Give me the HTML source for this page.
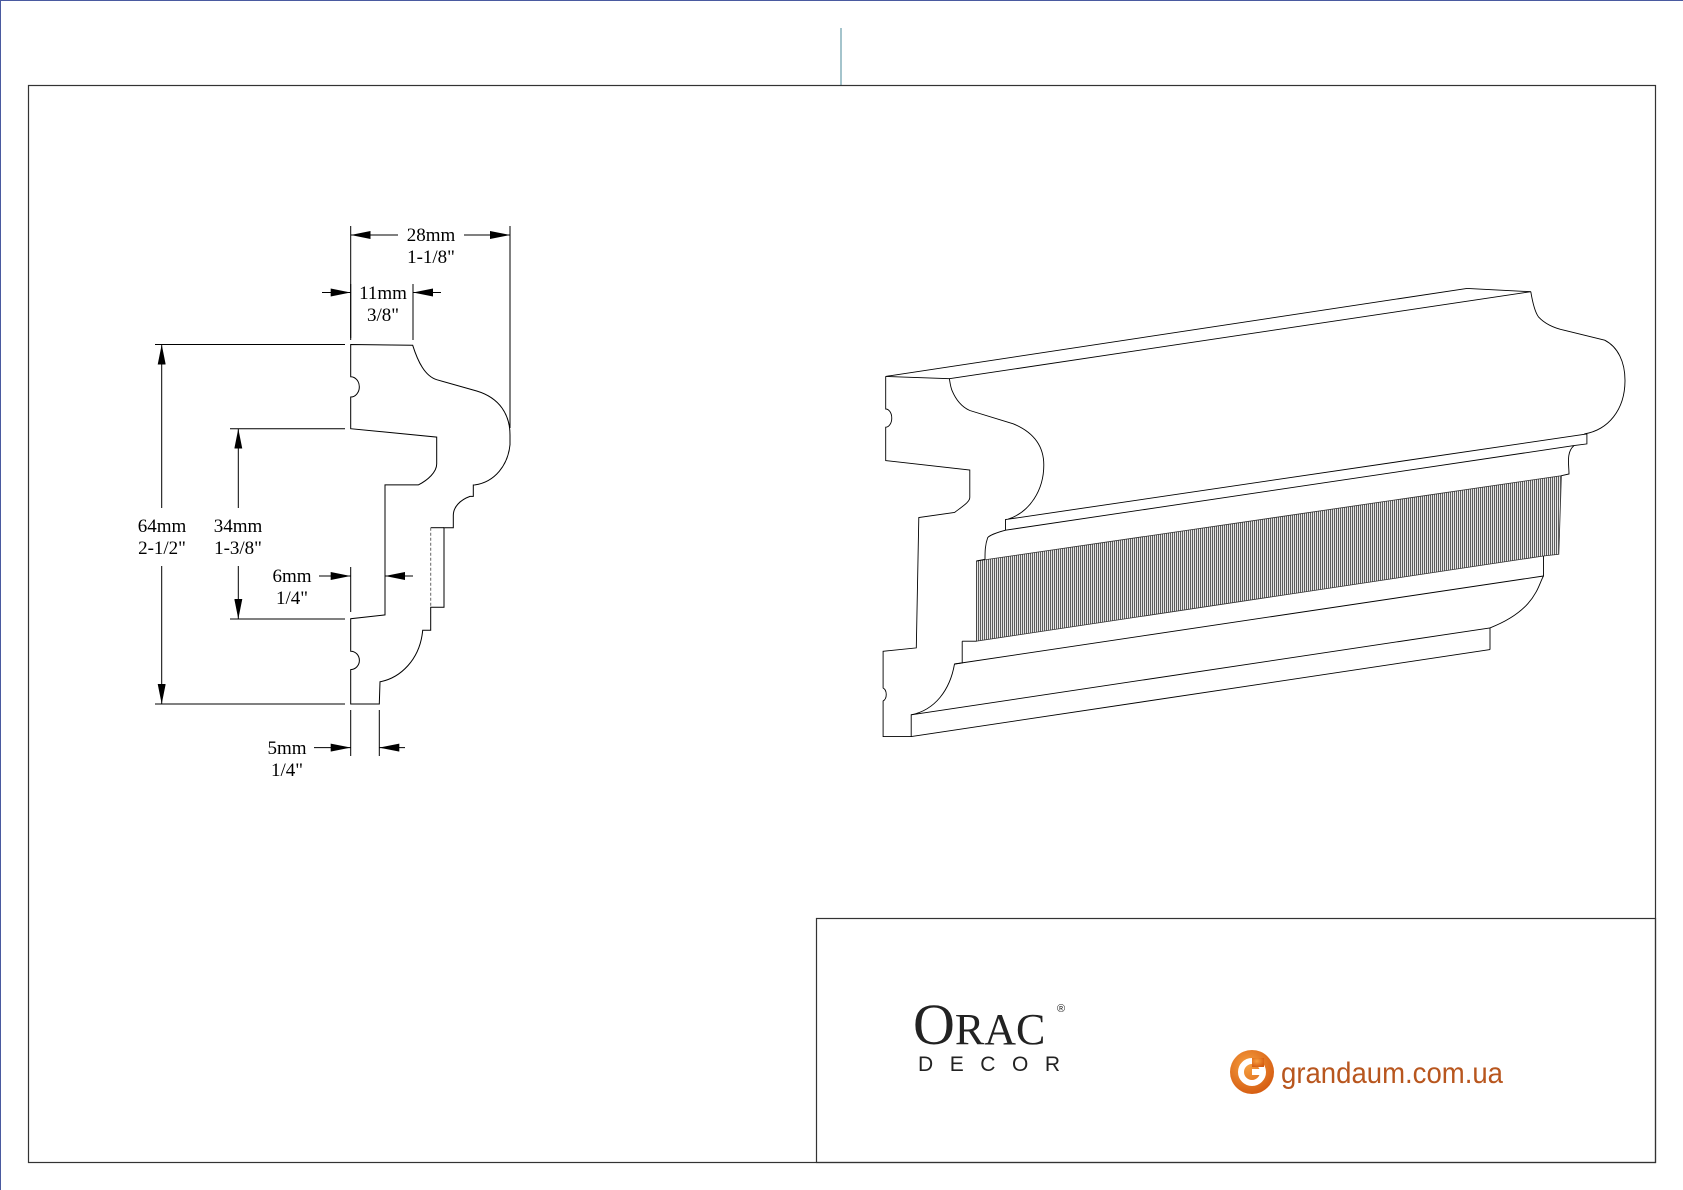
<!DOCTYPE html>
<html><head><meta charset="utf-8"><style>
html,body{margin:0;padding:0;background:#fff;}
svg{display:block;}
</style></head><body>
<svg width="1683" height="1190" viewBox="0 0 1683 1190" xmlns="http://www.w3.org/2000/svg" style="font-family:'Liberation Serif',serif">
<defs>
<pattern id="rib" width="2" height="10" patternUnits="userSpaceOnUse">
<rect width="2" height="10" fill="#eee"/>
<line x1="0.6" y1="0" x2="0.6" y2="10" stroke="#444" stroke-width="0.9"/>
</pattern>
<radialGradient id="og" cx="0.4" cy="0.35" r="0.7">
<stop offset="0" stop-color="#f7a040"/><stop offset="1" stop-color="#d45a10"/>
</radialGradient>
<marker id="ar" viewBox="0 0 20 8" refX="20" refY="4" markerWidth="20" markerHeight="8" markerUnits="userSpaceOnUse" orient="auto">
<path d="M0,0 L20,4 L0,8 Z" fill="#000"/>
</marker>
</defs>
<line x1="0" y1="0.5" x2="1683" y2="0.5" stroke="#4a5aa0" stroke-width="1"/>
<line x1="0.5" y1="0" x2="0.5" y2="1190" stroke="#4a5aa0" stroke-width="1"/>
<line x1="841" y1="28" x2="841" y2="85" stroke="#4a8a9a" stroke-width="1"/>
<rect x="28.5" y="85.5" width="1627" height="1077" fill="none" stroke="#333" stroke-width="1.2"/>
<rect x="816.5" y="918.5" width="839" height="244" fill="none" stroke="#333" stroke-width="1.2"/>

<g fill="none" stroke="#000" stroke-width="1">
<path d="M350.7,344.5 L412.7,345.3 C418,362 425,376 436.7,379.7 L476.7,391 C500,398 510,415 510,435 L510,444.7 C508,465 495,482 475,484.9 L473.3,485 L473.3,496.4 L470,496.4 C460,500 453.3,507 453.3,515.5 L453.3,527.7 L444,527.7 L444,607.3 L430.7,607.3 L430.7,630.2 L422.7,630.2 C420,660 400,678 380,681.8 L379.3,704 L350.7,704 L350.7,669.6 A8.5,9 0 0 0 350.7,651.2 L350.7,618.7 L385,614.9 L385,484.9 L418.3,484.9 C428,480 436.7,472 436.7,463.9 L436.7,437.1 L350.7,428.7 L350.7,397 A8.5,10 0 0 0 350.7,376.7 Z"/>
<line x1="430.7" y1="527.7" x2="444" y2="527.7"/>
<line x1="430.7" y1="527.7" x2="430.7" y2="607.3" stroke-dasharray="3,2" stroke="#666"/>
</g>

<g stroke="#000" stroke-width="1" fill="none">
<line x1="350.7" y1="226" x2="350.7" y2="338"/>
<line x1="510" y1="226" x2="510" y2="428"/>
<line x1="398" y1="235" x2="350.7" y2="235" marker-end="url(#ar)"/>
<line x1="464" y1="235" x2="510" y2="235" marker-end="url(#ar)"/>
<line x1="413" y1="284" x2="413" y2="340"/>
<line x1="350.7" y1="284" x2="350.7" y2="340"/>
<line x1="322" y1="292.5" x2="350.7" y2="292.5" marker-end="url(#ar)"/>
<line x1="441" y1="292.5" x2="413" y2="292.5" marker-end="url(#ar)"/>
<line x1="155" y1="344.5" x2="345" y2="344.5"/>
<line x1="155" y1="704" x2="345" y2="704"/>
<line x1="161.7" y1="508" x2="161.7" y2="344.5" marker-end="url(#ar)"/>
<line x1="161.7" y1="566" x2="161.7" y2="704" marker-end="url(#ar)"/>
<line x1="230" y1="428.7" x2="345" y2="428.7"/>
<line x1="230" y1="619" x2="345" y2="619"/>
<line x1="238.3" y1="508" x2="238.3" y2="428.7" marker-end="url(#ar)"/>
<line x1="238.3" y1="566" x2="238.3" y2="619" marker-end="url(#ar)"/>
<line x1="350.7" y1="567" x2="350.7" y2="612"/>
<line x1="319" y1="576" x2="350.7" y2="576" marker-end="url(#ar)"/>
<line x1="413" y1="576" x2="385" y2="576" marker-end="url(#ar)"/>
<line x1="350.7" y1="710" x2="350.7" y2="756"/>
<line x1="379.3" y1="710" x2="379.3" y2="756"/>
<line x1="314" y1="747.6" x2="350.7" y2="747.6" marker-end="url(#ar)"/>
<line x1="405" y1="747.6" x2="379.3" y2="747.6" marker-end="url(#ar)"/>
</g>
<g font-size="19" text-anchor="middle">
<text x="431" y="241">28mm</text><text x="431" y="263">1-1/8"</text>
<text x="383" y="299">11mm</text><text x="383" y="321">3/8"</text>
<text x="162" y="532">64mm</text><text x="162" y="554">2-1/2"</text>
<text x="238" y="532">34mm</text><text x="238" y="554">1-3/8"</text>
<text x="292" y="582">6mm</text><text x="292" y="604">1/4"</text>
<text x="287" y="754">5mm</text><text x="287" y="776">1/4"</text>
</g>

<polygon points="976.5,561 1561.4,475.7 1558.8,554.3 1543.5,556 976.5,641.2" fill="url(#rib)" stroke="#333" stroke-width="0.8"/>
<g fill="none" stroke="#000" stroke-width="0.9">
<path d="M885.7,376.4 L949.4,378.7 C950,383 951,388 952,390.4 C956,400 962,407 969.8,410.5 L1013.2,423.8 C1033,432 1043.8,445 1043.8,465 C1043.8,490 1030,512 1008,519.2 L1005.5,519.5 L1005.5,530.2 C995,533 989,536 987.7,537.6 C985,545 985,552 985,559.3"/>
<line x1="985" y1="559.3" x2="976.5" y2="561"/>
<path d="M962.2,641.2 L962.2,663 L954.5,664 C950,690 935,710 911.2,714.8 L911.2,736.6 L883.1,736.6 L883.1,701 A5,7 0 0 0 883.1,688 L883.1,651.3 L916.3,647.9 L918.8,517.5 L954.5,512.5 C963,506 969.8,502 969.8,497.4 L969.8,470 L885.7,460.6 L885.7,427.2 A6,9 0 0 0 885.7,409 L885.7,376.4"/>
<line x1="962.2" y1="641.2" x2="976.5" y2="641.2"/>
<line x1="885.7" y1="376.4" x2="1467" y2="288.4"/>
<line x1="949.4" y1="378.7" x2="1530.8" y2="291.7"/>
<line x1="1467" y1="288.4" x2="1530.8" y2="291.7"/>
<path d="M1530.8,291.7 C1533,305 1535,312 1538.4,316.8 C1545,324 1554,328 1564,330.2 L1604.7,340.2 C1618,347 1625,362 1625,380.4 C1625,410 1608,430 1584.3,433.9 L1586.9,433.9 L1586.9,443.9 L1574,445.6 C1566,452 1569,465 1569,474 L1561.4,475.7"/>
<path d="M1543.5,556 L1543.5,576 C1538,585 1536,610 1490,627.9 L1490,649.6"/>
<line x1="1008" y1="519.2" x2="1586.9" y2="433.9"/>
<line x1="1005.5" y1="530.2" x2="1574" y2="445.6"/>
<line x1="954.5" y1="664" x2="1543.5" y2="576"/>
<line x1="911.2" y1="714.8" x2="1490" y2="627.9"/>
<line x1="911.2" y1="736.6" x2="1490" y2="649.6"/>
</g>

<text x="913" y="1044" font-size="58" fill="#222" style="font-family:'Liberation Serif',serif">O<tspan font-size="44">RAC</tspan></text>
<text x="1057" y="1012" font-size="11" fill="#222" style="font-family:'Liberation Sans',sans-serif">®</text>
<text x="918" y="1071" font-size="21" fill="#222" textLength="142" lengthAdjust="spacing" style="font-family:'Liberation Sans',sans-serif">DECOR</text>
<circle cx="1252" cy="1072" r="22" fill="url(#og)"/>
<circle cx="1252" cy="1072" r="11" fill="none" stroke="#fff" stroke-width="6"/>
<rect x="1252" y="1069" width="11" height="6" fill="#fff"/>
<rect x="1252" y="1058" width="12" height="9" fill="url(#og)"/>
<text x="1281" y="1083" font-size="30" fill="#b8561e" textLength="222" lengthAdjust="spacingAndGlyphs" style="font-family:'Liberation Sans Narrow','Liberation Sans',sans-serif">grandaum.com.ua</text>
</svg>
</body></html>
